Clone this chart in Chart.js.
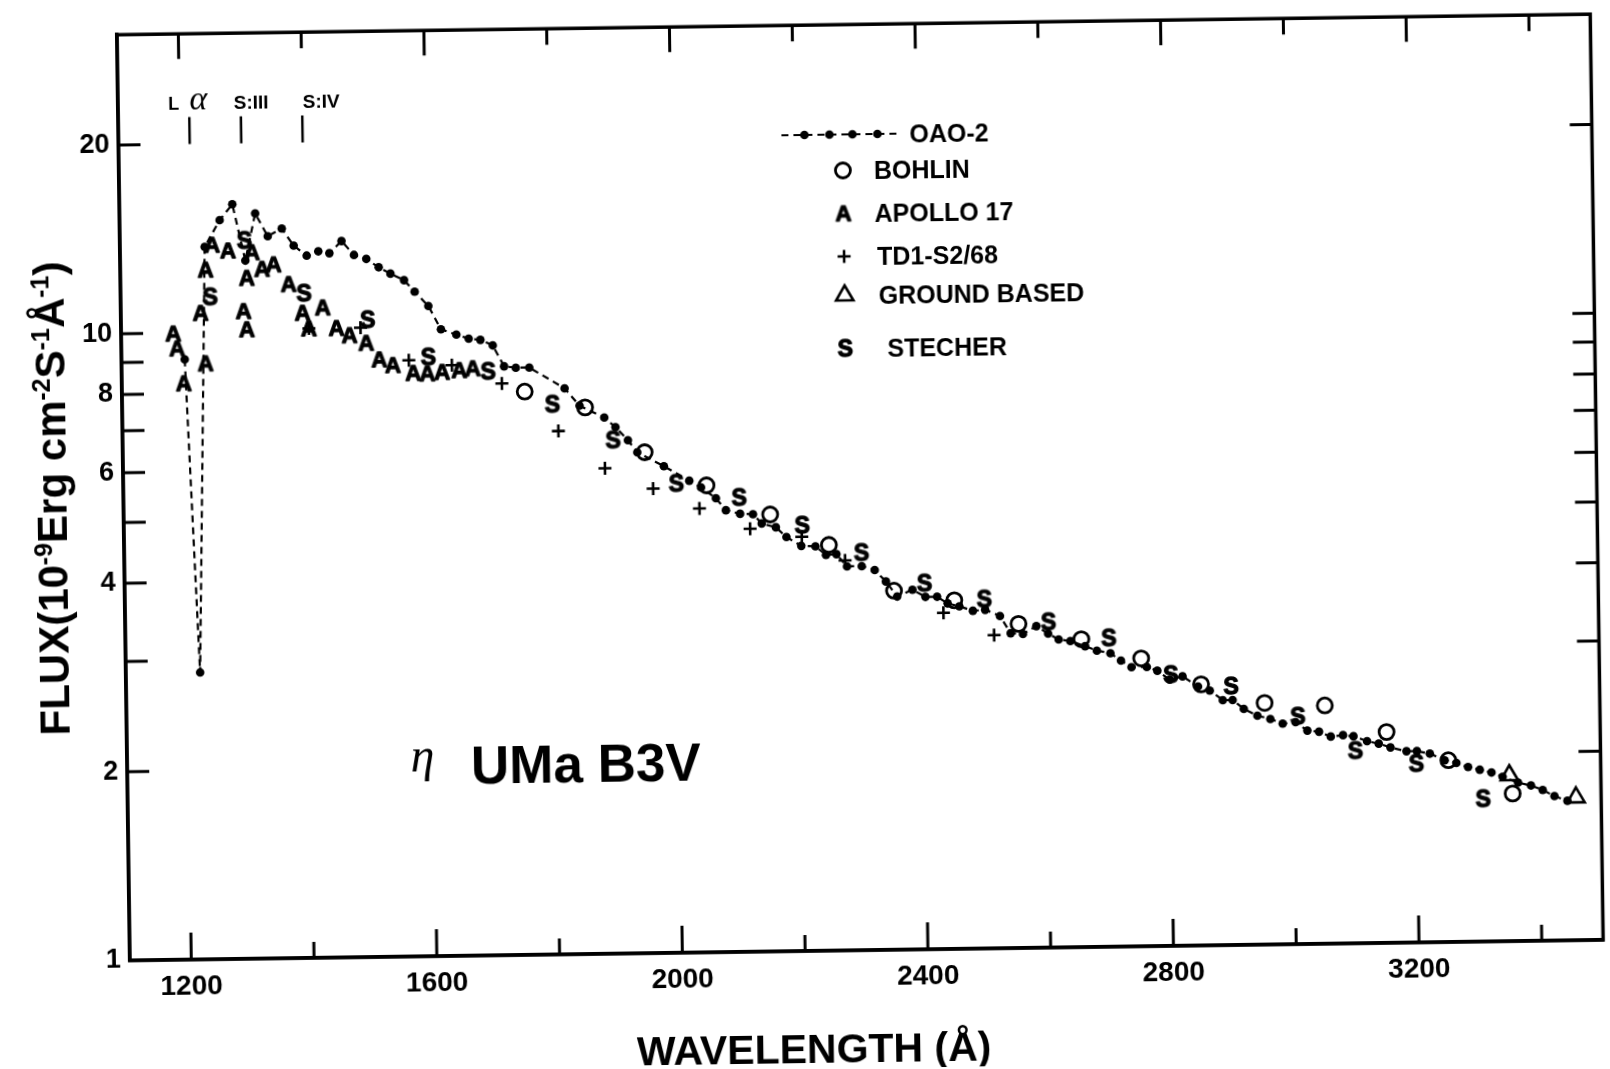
<!DOCTYPE html>
<html>
<head>
<meta charset="utf-8">
<script src="https://cdn.jsdelivr.net/npm/chart.js@4.4.1/dist/chart.umd.min.js"></script>
<style>
  html, body { margin: 0; padding: 0; background: #fff; overflow: hidden; }
  #wrap { width: 1610px; height: 1069px; }
  #c { display: block; transform: rotate(-0.8deg); transform-origin: 50% 50%; }
</style>
</head>
<body>
<div id="wrap"><canvas id="c" width="1610" height="1069"></canvas></div>
<script>
// ---- Spectral flux of eta UMa (B3V), 10^-9 erg cm^-2 s^-1 A^-1 ----

// OAO-2 scans (connected dashed line with dots)
const oaoWave = [1203,1221,1238,1263,1284,1304,1321,1341,1364,1383,
  1404,1423,1441,1461,1481,1501,1521,1540,1562,1579,
  1601,1621,1646,1666,1685,1705,1723,1742,1764,1821,
  1845,1885,1903,1923,1938,1981,2022,2041,2065,2081,
  2104,2125,2139,2162,2179,2203,2226,2243,2260,2277,
  2301,2322,2340,2358,2383,2404,2423,2440,2459,2481,
  2501,2525,2542,2562,2584,2603,2620,2639,2663,2682,
  2704,2721,2738,2763,2780,2800,2821,2846,2865,2886,
  2902,2920,2942,2963,2983,3004,3023,3042,3061,3081,
  3098,3120,3139,3158,3184,3201,3222,3246,3265,3284,
  3303,3322,3340,3365,3386,3405,3424,3445];
const oaoFlux = [9.07,2.87,13.7,15.1,16.0,13.0,15.45,14.2,14.6,13.7,
  13.2,13.4,13.3,13.9,13.2,13.0,12.6,12.3,12.0,11.5,
  10.9,10.0,9.8,9.65,9.6,9.4,8.7,8.65,8.65,8.0,
  7.5,7.17,6.92,6.59,6.3,5.98,5.66,5.52,5.3,5.07,
  5.0,4.99,4.82,4.75,4.58,4.43,4.42,4.28,4.29,4.1,
  4.1,4.04,3.87,3.66,3.75,3.65,3.65,3.56,3.52,3.46,
  3.47,3.39,3.18,3.17,3.26,3.17,3.10,3.08,3.02,2.97,
  2.94,2.86,2.79,2.79,2.75,2.66,2.69,2.59,2.55,2.46,
  2.46,2.38,2.32,2.29,2.25,2.26,2.19,2.18,2.14,2.15,
  2.14,2.10,2.08,2.05,2.02,2.02,2.00,1.95,1.93,1.90,
  1.88,1.86,1.83,1.79,1.77,1.74,1.70,1.67];

// Bohlin (open circles)
const bohlinWave = [1756,1854,1950,2050,2153,2248,2353,2451,2555,2657,2754,2851,2954,3052,3152,3252,3356];
const bohlinFlux = [7.92,7.45,6.30,5.56,4.98,4.44,3.74,3.60,3.29,3.10,2.88,2.61,2.43,2.40,2.17,1.95,1.72];

// Apollo 17 ("A")
const apolloWave = [1185,1191,1201,1230,1239,1237,1250,1276,1315,1306,1331,1350,1374,1300,
  1305,1396,1406,1429,1451,1472,1499,1520,1542,1575,1598,1622,1650,1672];
const apolloFlux = [9.98,9.45,8.31,10.75,12.6,8.93,13.8,13.5,13.4,12.2,12.6,12.8,11.9,10.8,
  10.1,10.7,10.1,10.9,10.1,9.83,9.55,8.98,8.79,8.53,8.51,8.55,8.6,8.65];

// TD1 S2/68 ("+")
const td1Wave = [1406,1490,1568,1638,1719,1810,1885,1963,2038,2120,2204,2274,2433,2515];
const td1Flux = [10.1,10.1,8.94,8.76,8.17,6.84,5.95,5.51,5.11,4.73,4.58,4.19,3.44,3.16];

// Ground based (open triangles)
const groundWave = [3351,3459];
const groundFlux = [1.84,1.69];

// Stecher ("S")
const stecherWave = [1246,1303,1399,1502,1600,1697,1801,1899,2001,2103,2205,2301,2403,2500,
  2604,2702,2802,2900,3008,3101,3200,3308];
const stecherFlux = [11.4,14.0,11.5,10.4,9.04,8.55,7.55,6.6,5.61,5.31,4.78,4.31,3.84,3.61,
  3.31,3.11,2.71,2.59,2.31,2.03,1.93,1.69];

// Axis ticks
const xTicks = [1200,1400,1600,1800,2000,2200,2400,2600,2800,3000,3200,3400];
const xTickLabels = [1200,1600,2000,2400,2800,3200];
const yTicks = [1,2,3,4,5,6,7,8,9,10,20];
const yTickLabels = [1,2,4,6,8,10,20];

// Line identifications (Lyman alpha, Si III, Si IV)
const lineMarkWave = [1216,1300,1400];
const lineMarkFlux = [20,22.1];
const lineLabels = ['L','α','S:III','S:IV'];
const lineLabelWave = [1191,1231,1317,1431];
const lineLabelFlux = 22.7;

// Star designation
const starEta = { text: 'η', wave: 1581, flux: 1.97 };
const starName = { text: 'UMa B3V', wave: 1660, flux: 1.88 };

const SANS = '"Liberation Sans", Arial, Helvetica, sans-serif';
const SERIF = '"Liberation Serif", "DejaVu Serif", "Times New Roman", serif';

// letter glyph used as a point marker
function letterMarker(ch, size) {
  const c = document.createElement('canvas');
  const w = Math.ceil(size * 1.2), h = Math.ceil(size * 1.2);
  c.width = w; c.height = h;
  const g = c.getContext('2d');
  g.fillStyle = '#000';
  g.strokeStyle = '#000';
  g.lineWidth = 1.3;
  g.lineJoin = 'round';
  g.font = 'bold ' + size + 'px ' + SANS;
  g.textAlign = 'center';
  g.textBaseline = 'alphabetic';
  const by = h / 2 + size * 0.716 / 2;
  g.fillText(ch, w / 2, by);
  g.strokeText(ch, w / 2, by);
  return c;
}
const markA = letterMarker('A', 22);
const markS = letterMarker('S', 23);

const toXY = (xs, ys) => xs.map((v, i) => ({ x: v, y: ys[i] }));

const datasets = [
  { label: 'OAO-2', data: toXY(oaoWave, oaoFlux), showLine: true,
    borderColor: '#000', borderWidth: 2.2, borderDash: [7, 5],
    pointStyle: 'circle', pointRadius: 4.3, pointBackgroundColor: '#000',
    pointBorderColor: '#000', pointBorderWidth: 0 },
  { label: 'BOHLIN', data: toXY(bohlinWave, bohlinFlux),
    pointStyle: 'circle', pointRadius: 7.5, pointBorderWidth: 2.8,
    pointBorderColor: '#000', pointBackgroundColor: 'rgba(0,0,0,0)' },
  { label: 'APOLLO 17', data: toXY(apolloWave, apolloFlux),
    pointStyle: markA, pointRadius: 10 },
  { label: 'TD1-S2/68', data: toXY(td1Wave, td1Flux),
    pointStyle: 'cross', pointRadius: 6.5, pointBorderWidth: 2.6,
    pointBorderColor: '#000', pointBackgroundColor: 'rgba(0,0,0,0)' },
  { label: 'GROUND BASED', data: toXY(groundWave, groundFlux),
    pointStyle: 'triangle', pointRadius: 10, pointBorderWidth: 2.6,
    pointBorderColor: '#000', pointBackgroundColor: 'rgba(0,0,0,0)' },
  { label: 'STECHER', data: toXY(stecherWave, stecherFlux),
    pointStyle: markS, pointRadius: 10 }
];

// legend layout (marker column, text start, row centres)
const legendRows = [
  { y: 135, tx: 915 }, { y: 171, tx: 879 }, { y: 214, tx: 879 },
  { y: 257, tx: 881 }, { y: 296, tx: 882 }, { y: 349, tx: 890 }
];
const legendMarkerX = 848;

function drawRich(ctx, parts, bigFont, smallFont, rise) {
  let total = 0;
  parts.forEach(p => { ctx.font = p[1] ? smallFont : bigFont; total += ctx.measureText(p[0]).width; });
  let px = -total / 2;
  parts.forEach(p => {
    ctx.font = p[1] ? smallFont : bigFont;
    ctx.fillText(p[0], px, p[1] ? -rise : 0);
    px += ctx.measureText(p[0]).width;
  });
}

const decor = {
  id: 'decor',
  afterDraw(chart) {
    const { ctx, chartArea: a, scales: { x, y } } = chart;
    ctx.save();
    ctx.strokeStyle = '#000';
    ctx.fillStyle = '#000';

    // frame
    ctx.lineWidth = 3.5;
    ctx.strokeRect(a.left, a.top, a.right - a.left, a.bottom - a.top);

    // inward tick marks on all four sides
    ctx.lineWidth = 3;
    ctx.beginPath();
    xTicks.forEach(v => {
      const px = x.getPixelForValue(v);
      const major = xTickLabels.includes(v);
      ctx.moveTo(px, a.bottom); ctx.lineTo(px, a.bottom - (major ? 27 : 16));
      ctx.moveTo(px, a.top); ctx.lineTo(px, a.top + (major ? 25 : 16));
    });
    yTicks.forEach(v => {
      if (v <= 1) return;
      const py = y.getPixelForValue(v);
      ctx.moveTo(a.left, py); ctx.lineTo(a.left + 22, py);
      ctx.moveTo(a.right, py); ctx.lineTo(a.right - 22, py);
    });
    ctx.stroke();

    // line identification marks
    ctx.lineWidth = 2.5;
    ctx.beginPath();
    lineMarkWave.forEach(w => {
      const px = x.getPixelForValue(w);
      ctx.moveTo(px, y.getPixelForValue(lineMarkFlux[0]));
      ctx.lineTo(px, y.getPixelForValue(lineMarkFlux[1]));
    });
    ctx.stroke();
    ctx.textAlign = 'center';
    ctx.textBaseline = 'alphabetic';
    const lblY = y.getPixelForValue(lineLabelFlux);
    lineLabels.forEach((t, i) => {
      ctx.font = t === 'α' ? 'italic 34px ' + SERIF : (t === 'L' ? 'bold 18px ' : 'bold 19px ') + SANS;
      ctx.fillText(t, x.getPixelForValue(lineLabelWave[i]), lblY);
    });

    // star designation
    ctx.font = 'italic 48px ' + SERIF;
    ctx.fillText(starEta.text, x.getPixelForValue(starEta.wave), y.getPixelForValue(starEta.flux));
    ctx.textAlign = 'left';
    ctx.font = 'bold 53px ' + SANS;
    ctx.fillText(starName.text, x.getPixelForValue(starName.wave), y.getPixelForValue(starName.flux));

    // legend
    ctx.font = 'bold 25px ' + SANS;
    chart.data.datasets.forEach((ds, i) => {
      const row = legendRows[i];
      if (i === 0) {
        ctx.save();
        ctx.lineWidth = 2.2;
        ctx.setLineDash([7, 5]);
        ctx.beginPath();
        ctx.moveTo(787, row.y); ctx.lineTo(905, row.y);
        ctx.stroke();
        ctx.restore();
        [810, 835, 858, 883].forEach(dx => {
          ctx.beginPath(); ctx.arc(dx, row.y, ds.pointRadius, 0, Math.PI * 2); ctx.fill();
        });
      } else {
        ctx.save();
        ctx.fillStyle = 'rgba(0,0,0,0)';
        ctx.strokeStyle = '#000';
        ctx.lineWidth = ds.pointBorderWidth || 0;
        Chart.helpers.drawPoint(ctx, {
          pointStyle: ds.pointStyle, radius: ds.pointRadius,
          borderWidth: ds.pointBorderWidth || 0, rotation: 0
        }, legendMarkerX, row.y);
        ctx.restore();
      }
      ctx.fillStyle = '#000';
      ctx.fillText(ds.label, row.tx, row.y + 9);
    });

    // axis titles
    ctx.textAlign = 'left';
    ctx.save();
    ctx.translate(807, 1063);
    drawRich(ctx, [['WAVELENGTH (Å)', 0]], 'bold 41px ' + SANS, 'bold 41px ' + SANS, 0);
    ctx.restore();

    ctx.save();
    ctx.translate(67, 488);
    ctx.rotate(-Math.PI / 2);
    drawRich(ctx, [['FLUX(10', 0], ['-9', 1], ['Erg cm', 0], ['-2', 1], ['S', 0], ['-1', 1],
                   ['Å', 0], ['-1', 1], [')', 0]],
             'bold 42px ' + SANS, 'bold 25px ' + SANS, 15);
    ctx.restore();

    ctx.restore();
  }
};

new Chart(document.getElementById('c'), {
  type: 'scatter',
  data: { datasets },
  options: {
    responsive: false,
    animation: false,
    devicePixelRatio: 1,
    layout: { padding: { left: 0, top: 25, right: 5, bottom: 0 } },
    plugins: { legend: { display: false }, title: { display: false }, tooltip: { enabled: false } },
    scales: {
      x: {
        type: 'linear', min: 1100, max: 3500,
        grid: { display: false, drawTicks: false },
        border: { display: true, color: '#000', width: 3.5 },
        afterBuildTicks: s => { s.ticks = xTicks.map(v => ({ value: v })); },
        afterFit: s => { s.height = 118; },
        ticks: {
          autoSkip: false, maxRotation: 0, padding: 10, color: '#000',
          font: { family: SANS, size: 28, weight: 'bold' },
          callback: v => xTickLabels.includes(v) ? String(v) : ''
        }
      },
      y: {
        type: 'logarithmic', min: 1, max: 30,
        grid: { display: false, drawTicks: false },
        border: { display: true, color: '#000', width: 3.5 },
        afterBuildTicks: s => { s.ticks = yTicks.map(v => ({ value: v })); },
        afterFit: s => { s.width = 124; },
        ticks: {
          autoSkip: false, padding: 9, color: '#000',
          font: { family: SANS, size: 27, weight: 'bold' },
          callback: v => yTickLabels.includes(v) ? String(v) : ''
        }
      }
    }
  },
  plugins: [decor]
});
</script>
</body>
</html>
